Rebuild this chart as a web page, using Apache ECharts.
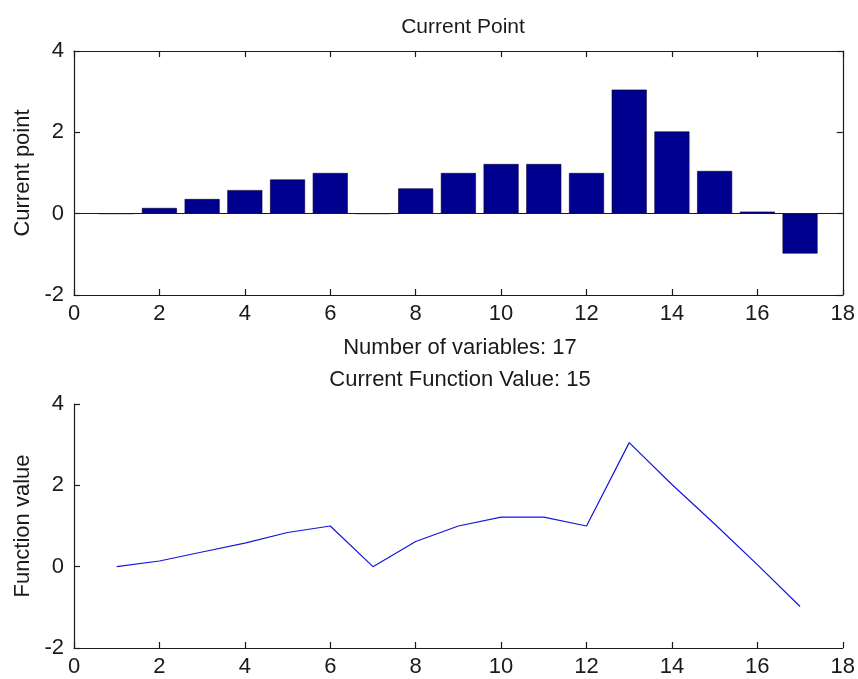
<!DOCTYPE html>
<html>
<head>
<meta charset="utf-8">
<title>Current Point</title>
<script src="https://cdn.jsdelivr.net/npm/echarts@6/dist/echarts.min.js"></script>
<style>
    html, body { margin: 0; padding: 0; background: #fff; }
    #chart { width: 858px; height: 679px; }
</style>
</head>
<body>
<div id="chart"></div>
<script>
// variable index 1..17 and the value of each one
var variables = [1, 2, 3, 4, 5, 6, 7, 8, 9, 10, 11, 12, 13, 14, 15, 16, 17];
var currentPoint = [0, 0.14, 0.36, 0.58, 0.84, 1.0, 0, 0.62, 1.0, 1.22, 1.22, 1.0, 3.05, 2.02, 1.05, 0.05, -0.98];
var xTicks = [0, 2, 4, 6, 8, 10, 12, 14, 16, 18];
var yTicks = [-2, 0, 2, 4];

var FONT = "'Liberation Sans', Arial, sans-serif";
var INK = '#1a1a1a';

var pairs = [];
for (var i = 0; i < variables.length; ++i) {
    pairs.push([variables[i], currentPoint[i]]);
}

function xAxis(grid, pos, labels) {
    return {
        type: 'value', gridIndex: grid, position: pos,
        min: xTicks[0], max: xTicks[xTicks.length - 1], interval: 2,
        splitLine: { show: false },
        axisLine: { show: true, onZero: false, lineStyle: { color: INK, width: 1.2 } },
        axisTick: { show: true, inside: true, length: 6, lineStyle: { color: INK, width: 1.2 } },
        axisLabel: { show: labels, color: INK, fontFamily: FONT, fontSize: 22, margin: 8 }
    };
}
function yAxis(grid, pos, labels, name) {
    return {
        type: 'value', gridIndex: grid, position: pos,
        min: yTicks[0], max: yTicks[yTicks.length - 1], interval: 2,
        name: name, nameLocation: 'middle', nameGap: 39, nameRotate: 90,
        nameTextStyle: { color: INK, fontFamily: FONT, fontSize: 22 },
        splitLine: { show: false },
        axisLine: { show: true, onZero: false, lineStyle: { color: INK, width: 1.2 } },
        axisTick: { show: true, inside: true, length: 6, lineStyle: { color: INK, width: 1.2 } },
        axisLabel: { show: labels, color: INK, fontFamily: FONT, fontSize: 22, margin: 10 }
    };
}

var chart = echarts.init(document.getElementById('chart'));
chart.setOption({
    animation: false,
    backgroundColor: '#fff',
    title: [
        { text: 'Current Point', left: 458, top: 12, textAlign: 'center',
          textStyle: { color: INK, fontFamily: FONT, fontSize: 21, fontWeight: 'normal' } },
        { text: 'Number of variables: 17', left: 455, top: 332, textAlign: 'center',
          textStyle: { color: INK, fontFamily: FONT, fontSize: 22, fontWeight: 'normal' } },
        { text: 'Current Function Value: 15', left: 455, top: 364, textAlign: 'center',
          textStyle: { color: INK, fontFamily: FONT, fontSize: 22, fontWeight: 'normal' } }
    ],
    grid: [
        { left: 74, top: 51, width: 769, height: 244 },
        { left: 74, top: 404, width: 769, height: 244 }
    ],
    xAxis: [
        xAxis(0, 'bottom', true),
        xAxis(0, 'top', false),
        xAxis(1, 'bottom', true)
    ],
    yAxis: [
        yAxis(0, 'left', true, 'Current point'),
        yAxis(0, 'right', false, ''),
        yAxis(1, 'left', true, 'Function value')
    ],
    series: [
        {
            type: 'bar', xAxisIndex: 0, yAxisIndex: 0,
            data: pairs,
            barWidth: 35,
            itemStyle: { color: '#00008F', borderColor: '#000033', borderWidth: 0.6 },
            markLine: {
                silent: true, symbol: 'none', label: { show: false },
                lineStyle: { color: INK, type: 'solid', width: 1.2 },
                data: [{ yAxis: 0 }]
            }
        },
        {
            type: 'line', xAxisIndex: 2, yAxisIndex: 2,
            data: pairs,
            showSymbol: false,
            lineStyle: { color: '#1515DD', width: 1.2 }
        }
    ]
});
</script>
</body>
</html>
